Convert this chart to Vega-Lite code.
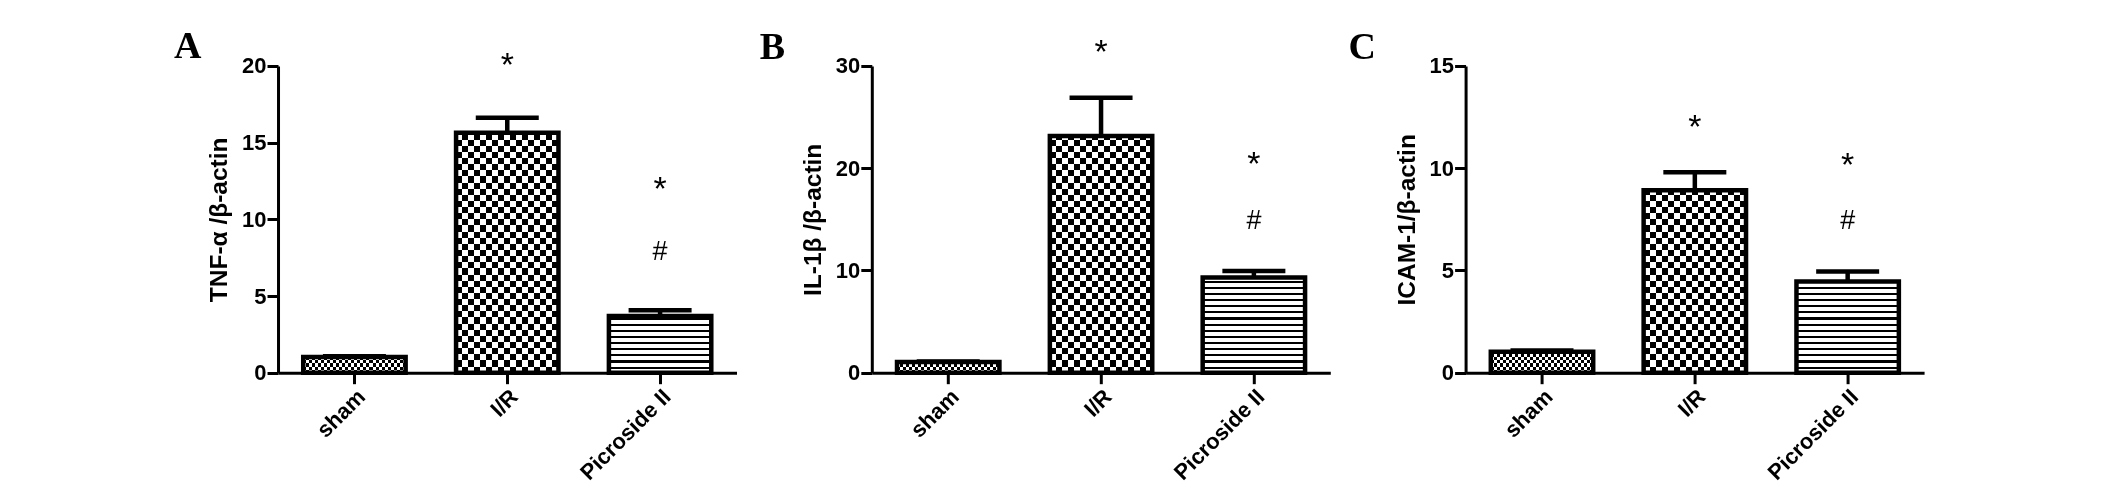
{
"$schema":"https://vega.github.io/schema/vega-lite/v6.json",
"background":"white",
"padding":{"left":174,"top":28,"right":5,"bottom":5},
"datasets":{
"bars":[
{"panel":"A","group":"sham","value":1.02,"hi":1.07},
{"panel":"A","group":"I/R","value":15.65,"hi":16.63},
{"panel":"A","group":"Picroside II","value":3.7,"hi":4.07},
{"panel":"B","group":"sham","value":1.05,"hi":1.1},
{"panel":"B","group":"I/R","value":23.16,"hi":26.9},
{"panel":"B","group":"Picroside II","value":9.3,"hi":9.95},
{"panel":"C","group":"sham","value":1.03,"hi":1.08},
{"panel":"C","group":"I/R","value":8.92,"hi":9.8},
{"panel":"C","group":"Picroside II","value":4.46,"hi":4.95}
],
"notes":[
{"panel":"A","group":"I/R","sym":"*","at":20.44},
{"panel":"A","group":"Picroside II","sym":"*","at":12.39},
{"panel":"A","group":"Picroside II","sym":"#","at":7.96},
{"panel":"B","group":"I/R","sym":"*","at":31.96},
{"panel":"B","group":"Picroside II","sym":"*","at":20.96},
{"panel":"B","group":"Picroside II","sym":"#","at":14.94},
{"panel":"C","group":"I/R","sym":"*","at":12.31},
{"panel":"C","group":"Picroside II","sym":"*","at":10.43},
{"panel":"C","group":"Picroside II","sym":"#","at":7.47}
]
},
"spacing":134.8,
"bounds":"flush",
"hconcat":[
{
"width":458.5,"height":306.7,
"title":{"text":"A","dx":-104,"dy":25},
"data":{"name":"bars"},
"transform":[{"filter":"datum.panel === 'A'"}],
"encoding":{"x":{"field":"group","type":"nominal","scale":{"domain":["sham","I/R","Picroside II"],"paddingInner":0.33,"paddingOuter":0.165},"axis":{"title":null,"labelAngle":-45}}},
"layer":[
{"transform":[{"filter":"datum.group === 'I/R'"}],"mark":{"type":"bar","fill":{"gradient":"linear","x1":0,"y1":0,"x2":0,"y2":1,"stops":[{"offset":0,"color":"#000"},{"offset":0.02,"color":"#000"},{"offset":0.02,"color":"#fff"},{"offset":0.04,"color":"#fff"},{"offset":0.04,"color":"#000"},{"offset":0.06,"color":"#000"},{"offset":0.06,"color":"#fff"},{"offset":0.08,"color":"#fff"},{"offset":0.08,"color":"#000"},{"offset":0.1,"color":"#000"},{"offset":0.1,"color":"#fff"},{"offset":0.12,"color":"#fff"},{"offset":0.12,"color":"#000"},{"offset":0.14,"color":"#000"},{"offset":0.14,"color":"#fff"},{"offset":0.16,"color":"#fff"},{"offset":0.16,"color":"#000"},{"offset":0.18,"color":"#000"},{"offset":0.18,"color":"#fff"},{"offset":0.2,"color":"#fff"},{"offset":0.2,"color":"#000"},{"offset":0.22,"color":"#000"},{"offset":0.22,"color":"#fff"},{"offset":0.24,"color":"#fff"},{"offset":0.24,"color":"#000"},{"offset":0.26,"color":"#000"},{"offset":0.26,"color":"#fff"},{"offset":0.28,"color":"#fff"},{"offset":0.28,"color":"#000"},{"offset":0.3,"color":"#000"},{"offset":0.3,"color":"#fff"},{"offset":0.32,"color":"#fff"},{"offset":0.32,"color":"#000"},{"offset":0.34,"color":"#000"},{"offset":0.34,"color":"#fff"},{"offset":0.36,"color":"#fff"},{"offset":0.36,"color":"#000"},{"offset":0.38,"color":"#000"},{"offset":0.38,"color":"#fff"},{"offset":0.4,"color":"#fff"},{"offset":0.4,"color":"#000"},{"offset":0.42,"color":"#000"},{"offset":0.42,"color":"#fff"},{"offset":0.44,"color":"#fff"},{"offset":0.44,"color":"#000"},{"offset":0.46,"color":"#000"},{"offset":0.46,"color":"#fff"},{"offset":0.48,"color":"#fff"},{"offset":0.48,"color":"#000"},{"offset":0.5,"color":"#000"},{"offset":0.5,"color":"#fff"},{"offset":0.52,"color":"#fff"},{"offset":0.52,"color":"#000"},{"offset":0.54,"color":"#000"},{"offset":0.54,"color":"#fff"},{"offset":0.56,"color":"#fff"},{"offset":0.56,"color":"#000"},{"offset":0.58,"color":"#000"},{"offset":0.58,"color":"#fff"},{"offset":0.6,"color":"#fff"},{"offset":0.6,"color":"#000"},{"offset":0.62,"color":"#000"},{"offset":0.62,"color":"#fff"},{"offset":0.64,"color":"#fff"},{"offset":0.64,"color":"#000"},{"offset":0.66,"color":"#000"},{"offset":0.66,"color":"#fff"},{"offset":0.68,"color":"#fff"},{"offset":0.68,"color":"#000"},{"offset":0.7,"color":"#000"},{"offset":0.7,"color":"#fff"},{"offset":0.72,"color":"#fff"},{"offset":0.72,"color":"#000"},{"offset":0.74,"color":"#000"},{"offset":0.74,"color":"#fff"},{"offset":0.76,"color":"#fff"},{"offset":0.76,"color":"#000"},{"offset":0.78,"color":"#000"},{"offset":0.78,"color":"#fff"},{"offset":0.8,"color":"#fff"},{"offset":0.8,"color":"#000"},{"offset":0.82,"color":"#000"},{"offset":0.82,"color":"#fff"},{"offset":0.84,"color":"#fff"},{"offset":0.84,"color":"#000"},{"offset":0.86,"color":"#000"},{"offset":0.86,"color":"#fff"},{"offset":0.88,"color":"#fff"},{"offset":0.88,"color":"#000"},{"offset":0.9,"color":"#000"},{"offset":0.9,"color":"#fff"},{"offset":0.92,"color":"#fff"},{"offset":0.92,"color":"#000"},{"offset":0.94,"color":"#000"},{"offset":0.94,"color":"#fff"},{"offset":0.96,"color":"#fff"},{"offset":0.96,"color":"#000"},{"offset":0.98,"color":"#000"},{"offset":0.98,"color":"#fff"},{"offset":1,"color":"#fff"}]}},"encoding":{"y":{"datum":20,"type":"quantitative","scale":{"domain":[0,20],"nice":false},"axis":{"title":"TNF-α /β-actin"}}}},
{"transform":[{"filter":"datum.group === 'I/R'"}],"mark":{"type":"bar","blend":"difference","fill":{"gradient":"linear","x1":0,"y1":0,"x2":1,"y2":0,"stops":[{"offset":0,"color":"#000"},{"offset":0.0588,"color":"#000"},{"offset":0.0588,"color":"#fff"},{"offset":0.1176,"color":"#fff"},{"offset":0.1176,"color":"#000"},{"offset":0.1765,"color":"#000"},{"offset":0.1765,"color":"#fff"},{"offset":0.2353,"color":"#fff"},{"offset":0.2353,"color":"#000"},{"offset":0.2941,"color":"#000"},{"offset":0.2941,"color":"#fff"},{"offset":0.3529,"color":"#fff"},{"offset":0.3529,"color":"#000"},{"offset":0.4118,"color":"#000"},{"offset":0.4118,"color":"#fff"},{"offset":0.4706,"color":"#fff"},{"offset":0.4706,"color":"#000"},{"offset":0.5294,"color":"#000"},{"offset":0.5294,"color":"#fff"},{"offset":0.5882,"color":"#fff"},{"offset":0.5882,"color":"#000"},{"offset":0.6471,"color":"#000"},{"offset":0.6471,"color":"#fff"},{"offset":0.7059,"color":"#fff"},{"offset":0.7059,"color":"#000"},{"offset":0.7647,"color":"#000"},{"offset":0.7647,"color":"#fff"},{"offset":0.8235,"color":"#fff"},{"offset":0.8235,"color":"#000"},{"offset":0.8824,"color":"#000"},{"offset":0.8824,"color":"#fff"},{"offset":0.9412,"color":"#fff"},{"offset":0.9412,"color":"#000"},{"offset":1,"color":"#000"}]}},"encoding":{"y":{"datum":20,"type":"quantitative","scale":{"domain":[0,20],"nice":false}}}},
{"transform":[{"filter":"datum.group === 'sham'"}],"mark":{"type":"bar","fill":{"gradient":"linear","x1":0,"y1":0,"x2":0,"y2":1,"stops":[{"offset":0,"color":"#fff"},{"offset":0.92,"color":"#fff"},{"offset":0.92,"color":"#000"},{"offset":0.93,"color":"#000"},{"offset":0.93,"color":"#fff"},{"offset":0.94,"color":"#fff"},{"offset":0.94,"color":"#000"},{"offset":0.95,"color":"#000"},{"offset":0.95,"color":"#fff"},{"offset":0.96,"color":"#fff"},{"offset":0.96,"color":"#000"},{"offset":0.97,"color":"#000"},{"offset":0.97,"color":"#fff"},{"offset":0.98,"color":"#fff"},{"offset":0.98,"color":"#000"},{"offset":0.99,"color":"#000"},{"offset":0.99,"color":"#fff"},{"offset":1,"color":"#fff"}]}},"encoding":{"y":{"datum":20,"type":"quantitative","scale":{"domain":[0,20],"nice":false}}}},
{"transform":[{"filter":"datum.group === 'sham'"}],"mark":{"type":"bar","blend":"difference","fill":{"gradient":"linear","x1":0,"y1":0,"x2":1,"y2":0,"stops":[{"offset":0,"color":"#000"},{"offset":0.0294,"color":"#000"},{"offset":0.0294,"color":"#fff"},{"offset":0.0588,"color":"#fff"},{"offset":0.0588,"color":"#000"},{"offset":0.0882,"color":"#000"},{"offset":0.0882,"color":"#fff"},{"offset":0.1176,"color":"#fff"},{"offset":0.1176,"color":"#000"},{"offset":0.1471,"color":"#000"},{"offset":0.1471,"color":"#fff"},{"offset":0.1765,"color":"#fff"},{"offset":0.1765,"color":"#000"},{"offset":0.2059,"color":"#000"},{"offset":0.2059,"color":"#fff"},{"offset":0.2353,"color":"#fff"},{"offset":0.2353,"color":"#000"},{"offset":0.2647,"color":"#000"},{"offset":0.2647,"color":"#fff"},{"offset":0.2941,"color":"#fff"},{"offset":0.2941,"color":"#000"},{"offset":0.3235,"color":"#000"},{"offset":0.3235,"color":"#fff"},{"offset":0.3529,"color":"#fff"},{"offset":0.3529,"color":"#000"},{"offset":0.3824,"color":"#000"},{"offset":0.3824,"color":"#fff"},{"offset":0.4118,"color":"#fff"},{"offset":0.4118,"color":"#000"},{"offset":0.4412,"color":"#000"},{"offset":0.4412,"color":"#fff"},{"offset":0.4706,"color":"#fff"},{"offset":0.4706,"color":"#000"},{"offset":0.5,"color":"#000"},{"offset":0.5,"color":"#fff"},{"offset":0.5294,"color":"#fff"},{"offset":0.5294,"color":"#000"},{"offset":0.5588,"color":"#000"},{"offset":0.5588,"color":"#fff"},{"offset":0.5882,"color":"#fff"},{"offset":0.5882,"color":"#000"},{"offset":0.6176,"color":"#000"},{"offset":0.6176,"color":"#fff"},{"offset":0.6471,"color":"#fff"},{"offset":0.6471,"color":"#000"},{"offset":0.6765,"color":"#000"},{"offset":0.6765,"color":"#fff"},{"offset":0.7059,"color":"#fff"},{"offset":0.7059,"color":"#000"},{"offset":0.7353,"color":"#000"},{"offset":0.7353,"color":"#fff"},{"offset":0.7647,"color":"#fff"},{"offset":0.7647,"color":"#000"},{"offset":0.7941,"color":"#000"},{"offset":0.7941,"color":"#fff"},{"offset":0.8235,"color":"#fff"},{"offset":0.8235,"color":"#000"},{"offset":0.8529,"color":"#000"},{"offset":0.8529,"color":"#fff"},{"offset":0.8824,"color":"#fff"},{"offset":0.8824,"color":"#000"},{"offset":0.9118,"color":"#000"},{"offset":0.9118,"color":"#fff"},{"offset":0.9412,"color":"#fff"},{"offset":0.9412,"color":"#000"},{"offset":0.9706,"color":"#000"},{"offset":0.9706,"color":"#fff"},{"offset":1,"color":"#fff"}]}},"encoding":{"y":{"datum":20,"type":"quantitative","scale":{"domain":[0,20],"nice":false}}}},
{"transform":[{"filter":"datum.group === 'Picroside II'"}],"mark":{"type":"bar","fill":{"gradient":"linear","x1":0,"y1":0,"x2":0,"y2":1,"stops":[{"offset":0,"color":"#fff"},{"offset":0.68,"color":"#fff"},{"offset":0.68,"color":"#000"},{"offset":0.687,"color":"#000"},{"offset":0.687,"color":"#fff"},{"offset":0.7,"color":"#fff"},{"offset":0.7,"color":"#000"},{"offset":0.707,"color":"#000"},{"offset":0.707,"color":"#fff"},{"offset":0.72,"color":"#fff"},{"offset":0.72,"color":"#000"},{"offset":0.727,"color":"#000"},{"offset":0.727,"color":"#fff"},{"offset":0.74,"color":"#fff"},{"offset":0.74,"color":"#000"},{"offset":0.747,"color":"#000"},{"offset":0.747,"color":"#fff"},{"offset":0.76,"color":"#fff"},{"offset":0.76,"color":"#000"},{"offset":0.767,"color":"#000"},{"offset":0.767,"color":"#fff"},{"offset":0.78,"color":"#fff"},{"offset":0.78,"color":"#000"},{"offset":0.787,"color":"#000"},{"offset":0.787,"color":"#fff"},{"offset":0.8,"color":"#fff"},{"offset":0.8,"color":"#000"},{"offset":0.807,"color":"#000"},{"offset":0.807,"color":"#fff"},{"offset":0.82,"color":"#fff"},{"offset":0.82,"color":"#000"},{"offset":0.827,"color":"#000"},{"offset":0.827,"color":"#fff"},{"offset":0.84,"color":"#fff"},{"offset":0.84,"color":"#000"},{"offset":0.847,"color":"#000"},{"offset":0.847,"color":"#fff"},{"offset":0.86,"color":"#fff"},{"offset":0.86,"color":"#000"},{"offset":0.867,"color":"#000"},{"offset":0.867,"color":"#fff"},{"offset":0.88,"color":"#fff"},{"offset":0.88,"color":"#000"},{"offset":0.887,"color":"#000"},{"offset":0.887,"color":"#fff"},{"offset":0.9,"color":"#fff"},{"offset":0.9,"color":"#000"},{"offset":0.907,"color":"#000"},{"offset":0.907,"color":"#fff"},{"offset":0.92,"color":"#fff"},{"offset":0.92,"color":"#000"},{"offset":0.927,"color":"#000"},{"offset":0.927,"color":"#fff"},{"offset":0.94,"color":"#fff"},{"offset":0.94,"color":"#000"},{"offset":0.947,"color":"#000"},{"offset":0.947,"color":"#fff"},{"offset":0.96,"color":"#fff"},{"offset":0.96,"color":"#000"},{"offset":0.967,"color":"#000"},{"offset":0.967,"color":"#fff"},{"offset":0.98,"color":"#fff"},{"offset":0.98,"color":"#000"},{"offset":0.987,"color":"#000"},{"offset":0.987,"color":"#fff"},{"offset":1,"color":"#fff"}]}},"encoding":{"y":{"datum":20,"type":"quantitative","scale":{"domain":[0,20],"nice":false}}}},
{"mark":{"type":"bar","fill":"white","stroke":"white","strokeWidth":2},"encoding":{"y":{"field":"value","type":"quantitative","scale":{"domain":[0,20],"nice":false}},"y2":{"datum":20}}},
{"mark":{"type":"bar","fillOpacity":0,"stroke":"black","strokeWidth":4.5},"encoding":{"y":{"field":"value","type":"quantitative","scale":{"domain":[0,20],"nice":false}}}},
{"mark":{"type":"rule","color":"black","strokeWidth":4.5},"encoding":{"y":{"field":"value","type":"quantitative","scale":{"domain":[0,20],"nice":false}},"y2":{"field":"hi"}}},
{"mark":{"type":"tick","color":"black","opacity":1,"size":63,"thickness":4.5},"encoding":{"y":{"field":"hi","type":"quantitative","scale":{"domain":[0,20],"nice":false}}}},
{"data":{"name":"notes"},"transform":[{"filter":"datum.panel === 'A' && datum.sym === '*'"}],"mark":{"type":"text","fontSize":34,"baseline":"alphabetic","dy":17,"color":"black"},"encoding":{"y":{"field":"at","type":"quantitative","scale":{"domain":[0,20],"nice":false}},"text":{"field":"sym"}}},
{"data":{"name":"notes"},"transform":[{"filter":"datum.panel === 'A' && datum.sym === '#'"}],"mark":{"type":"text","fontSize":27,"baseline":"alphabetic","dy":9,"color":"black"},"encoding":{"y":{"field":"at","type":"quantitative","scale":{"domain":[0,20],"nice":false}},"text":{"field":"sym"}}}
]
},
{
"width":458.5,"height":306.7,
"title":{"text":"B","dx":-112,"dy":39},
"data":{"name":"bars"},
"transform":[{"filter":"datum.panel === 'B'"}],
"encoding":{"x":{"field":"group","type":"nominal","scale":{"domain":["sham","I/R","Picroside II"],"paddingInner":0.33,"paddingOuter":0.165},"axis":{"title":null,"labelAngle":-45}}},
"layer":[
{"transform":[{"filter":"datum.group === 'I/R'"}],"mark":{"type":"bar","fill":{"gradient":"linear","x1":0,"y1":0,"x2":0,"y2":1,"stops":[{"offset":0,"color":"#000"},{"offset":0.02,"color":"#000"},{"offset":0.02,"color":"#fff"},{"offset":0.04,"color":"#fff"},{"offset":0.04,"color":"#000"},{"offset":0.06,"color":"#000"},{"offset":0.06,"color":"#fff"},{"offset":0.08,"color":"#fff"},{"offset":0.08,"color":"#000"},{"offset":0.1,"color":"#000"},{"offset":0.1,"color":"#fff"},{"offset":0.12,"color":"#fff"},{"offset":0.12,"color":"#000"},{"offset":0.14,"color":"#000"},{"offset":0.14,"color":"#fff"},{"offset":0.16,"color":"#fff"},{"offset":0.16,"color":"#000"},{"offset":0.18,"color":"#000"},{"offset":0.18,"color":"#fff"},{"offset":0.2,"color":"#fff"},{"offset":0.2,"color":"#000"},{"offset":0.22,"color":"#000"},{"offset":0.22,"color":"#fff"},{"offset":0.24,"color":"#fff"},{"offset":0.24,"color":"#000"},{"offset":0.26,"color":"#000"},{"offset":0.26,"color":"#fff"},{"offset":0.28,"color":"#fff"},{"offset":0.28,"color":"#000"},{"offset":0.3,"color":"#000"},{"offset":0.3,"color":"#fff"},{"offset":0.32,"color":"#fff"},{"offset":0.32,"color":"#000"},{"offset":0.34,"color":"#000"},{"offset":0.34,"color":"#fff"},{"offset":0.36,"color":"#fff"},{"offset":0.36,"color":"#000"},{"offset":0.38,"color":"#000"},{"offset":0.38,"color":"#fff"},{"offset":0.4,"color":"#fff"},{"offset":0.4,"color":"#000"},{"offset":0.42,"color":"#000"},{"offset":0.42,"color":"#fff"},{"offset":0.44,"color":"#fff"},{"offset":0.44,"color":"#000"},{"offset":0.46,"color":"#000"},{"offset":0.46,"color":"#fff"},{"offset":0.48,"color":"#fff"},{"offset":0.48,"color":"#000"},{"offset":0.5,"color":"#000"},{"offset":0.5,"color":"#fff"},{"offset":0.52,"color":"#fff"},{"offset":0.52,"color":"#000"},{"offset":0.54,"color":"#000"},{"offset":0.54,"color":"#fff"},{"offset":0.56,"color":"#fff"},{"offset":0.56,"color":"#000"},{"offset":0.58,"color":"#000"},{"offset":0.58,"color":"#fff"},{"offset":0.6,"color":"#fff"},{"offset":0.6,"color":"#000"},{"offset":0.62,"color":"#000"},{"offset":0.62,"color":"#fff"},{"offset":0.64,"color":"#fff"},{"offset":0.64,"color":"#000"},{"offset":0.66,"color":"#000"},{"offset":0.66,"color":"#fff"},{"offset":0.68,"color":"#fff"},{"offset":0.68,"color":"#000"},{"offset":0.7,"color":"#000"},{"offset":0.7,"color":"#fff"},{"offset":0.72,"color":"#fff"},{"offset":0.72,"color":"#000"},{"offset":0.74,"color":"#000"},{"offset":0.74,"color":"#fff"},{"offset":0.76,"color":"#fff"},{"offset":0.76,"color":"#000"},{"offset":0.78,"color":"#000"},{"offset":0.78,"color":"#fff"},{"offset":0.8,"color":"#fff"},{"offset":0.8,"color":"#000"},{"offset":0.82,"color":"#000"},{"offset":0.82,"color":"#fff"},{"offset":0.84,"color":"#fff"},{"offset":0.84,"color":"#000"},{"offset":0.86,"color":"#000"},{"offset":0.86,"color":"#fff"},{"offset":0.88,"color":"#fff"},{"offset":0.88,"color":"#000"},{"offset":0.9,"color":"#000"},{"offset":0.9,"color":"#fff"},{"offset":0.92,"color":"#fff"},{"offset":0.92,"color":"#000"},{"offset":0.94,"color":"#000"},{"offset":0.94,"color":"#fff"},{"offset":0.96,"color":"#fff"},{"offset":0.96,"color":"#000"},{"offset":0.98,"color":"#000"},{"offset":0.98,"color":"#fff"},{"offset":1,"color":"#fff"}]}},"encoding":{"y":{"datum":30,"type":"quantitative","scale":{"domain":[0,30],"nice":false},"axis":{"title":"IL-1β /β-actin"}}}},
{"transform":[{"filter":"datum.group === 'I/R'"}],"mark":{"type":"bar","blend":"difference","fill":{"gradient":"linear","x1":0,"y1":0,"x2":1,"y2":0,"stops":[{"offset":0,"color":"#000"},{"offset":0.0588,"color":"#000"},{"offset":0.0588,"color":"#fff"},{"offset":0.1176,"color":"#fff"},{"offset":0.1176,"color":"#000"},{"offset":0.1765,"color":"#000"},{"offset":0.1765,"color":"#fff"},{"offset":0.2353,"color":"#fff"},{"offset":0.2353,"color":"#000"},{"offset":0.2941,"color":"#000"},{"offset":0.2941,"color":"#fff"},{"offset":0.3529,"color":"#fff"},{"offset":0.3529,"color":"#000"},{"offset":0.4118,"color":"#000"},{"offset":0.4118,"color":"#fff"},{"offset":0.4706,"color":"#fff"},{"offset":0.4706,"color":"#000"},{"offset":0.5294,"color":"#000"},{"offset":0.5294,"color":"#fff"},{"offset":0.5882,"color":"#fff"},{"offset":0.5882,"color":"#000"},{"offset":0.6471,"color":"#000"},{"offset":0.6471,"color":"#fff"},{"offset":0.7059,"color":"#fff"},{"offset":0.7059,"color":"#000"},{"offset":0.7647,"color":"#000"},{"offset":0.7647,"color":"#fff"},{"offset":0.8235,"color":"#fff"},{"offset":0.8235,"color":"#000"},{"offset":0.8824,"color":"#000"},{"offset":0.8824,"color":"#fff"},{"offset":0.9412,"color":"#fff"},{"offset":0.9412,"color":"#000"},{"offset":1,"color":"#000"}]}},"encoding":{"y":{"datum":30,"type":"quantitative","scale":{"domain":[0,30],"nice":false}}}},
{"transform":[{"filter":"datum.group === 'sham'"}],"mark":{"type":"bar","fill":{"gradient":"linear","x1":0,"y1":0,"x2":0,"y2":1,"stops":[{"offset":0,"color":"#fff"},{"offset":0.92,"color":"#fff"},{"offset":0.92,"color":"#000"},{"offset":0.93,"color":"#000"},{"offset":0.93,"color":"#fff"},{"offset":0.94,"color":"#fff"},{"offset":0.94,"color":"#000"},{"offset":0.95,"color":"#000"},{"offset":0.95,"color":"#fff"},{"offset":0.96,"color":"#fff"},{"offset":0.96,"color":"#000"},{"offset":0.97,"color":"#000"},{"offset":0.97,"color":"#fff"},{"offset":0.98,"color":"#fff"},{"offset":0.98,"color":"#000"},{"offset":0.99,"color":"#000"},{"offset":0.99,"color":"#fff"},{"offset":1,"color":"#fff"}]}},"encoding":{"y":{"datum":30,"type":"quantitative","scale":{"domain":[0,30],"nice":false}}}},
{"transform":[{"filter":"datum.group === 'sham'"}],"mark":{"type":"bar","blend":"difference","fill":{"gradient":"linear","x1":0,"y1":0,"x2":1,"y2":0,"stops":[{"offset":0,"color":"#000"},{"offset":0.0294,"color":"#000"},{"offset":0.0294,"color":"#fff"},{"offset":0.0588,"color":"#fff"},{"offset":0.0588,"color":"#000"},{"offset":0.0882,"color":"#000"},{"offset":0.0882,"color":"#fff"},{"offset":0.1176,"color":"#fff"},{"offset":0.1176,"color":"#000"},{"offset":0.1471,"color":"#000"},{"offset":0.1471,"color":"#fff"},{"offset":0.1765,"color":"#fff"},{"offset":0.1765,"color":"#000"},{"offset":0.2059,"color":"#000"},{"offset":0.2059,"color":"#fff"},{"offset":0.2353,"color":"#fff"},{"offset":0.2353,"color":"#000"},{"offset":0.2647,"color":"#000"},{"offset":0.2647,"color":"#fff"},{"offset":0.2941,"color":"#fff"},{"offset":0.2941,"color":"#000"},{"offset":0.3235,"color":"#000"},{"offset":0.3235,"color":"#fff"},{"offset":0.3529,"color":"#fff"},{"offset":0.3529,"color":"#000"},{"offset":0.3824,"color":"#000"},{"offset":0.3824,"color":"#fff"},{"offset":0.4118,"color":"#fff"},{"offset":0.4118,"color":"#000"},{"offset":0.4412,"color":"#000"},{"offset":0.4412,"color":"#fff"},{"offset":0.4706,"color":"#fff"},{"offset":0.4706,"color":"#000"},{"offset":0.5,"color":"#000"},{"offset":0.5,"color":"#fff"},{"offset":0.5294,"color":"#fff"},{"offset":0.5294,"color":"#000"},{"offset":0.5588,"color":"#000"},{"offset":0.5588,"color":"#fff"},{"offset":0.5882,"color":"#fff"},{"offset":0.5882,"color":"#000"},{"offset":0.6176,"color":"#000"},{"offset":0.6176,"color":"#fff"},{"offset":0.6471,"color":"#fff"},{"offset":0.6471,"color":"#000"},{"offset":0.6765,"color":"#000"},{"offset":0.6765,"color":"#fff"},{"offset":0.7059,"color":"#fff"},{"offset":0.7059,"color":"#000"},{"offset":0.7353,"color":"#000"},{"offset":0.7353,"color":"#fff"},{"offset":0.7647,"color":"#fff"},{"offset":0.7647,"color":"#000"},{"offset":0.7941,"color":"#000"},{"offset":0.7941,"color":"#fff"},{"offset":0.8235,"color":"#fff"},{"offset":0.8235,"color":"#000"},{"offset":0.8529,"color":"#000"},{"offset":0.8529,"color":"#fff"},{"offset":0.8824,"color":"#fff"},{"offset":0.8824,"color":"#000"},{"offset":0.9118,"color":"#000"},{"offset":0.9118,"color":"#fff"},{"offset":0.9412,"color":"#fff"},{"offset":0.9412,"color":"#000"},{"offset":0.9706,"color":"#000"},{"offset":0.9706,"color":"#fff"},{"offset":1,"color":"#fff"}]}},"encoding":{"y":{"datum":30,"type":"quantitative","scale":{"domain":[0,30],"nice":false}}}},
{"transform":[{"filter":"datum.group === 'Picroside II'"}],"mark":{"type":"bar","fill":{"gradient":"linear","x1":0,"y1":0,"x2":0,"y2":1,"stops":[{"offset":0,"color":"#fff"},{"offset":0.68,"color":"#fff"},{"offset":0.68,"color":"#000"},{"offset":0.687,"color":"#000"},{"offset":0.687,"color":"#fff"},{"offset":0.7,"color":"#fff"},{"offset":0.7,"color":"#000"},{"offset":0.707,"color":"#000"},{"offset":0.707,"color":"#fff"},{"offset":0.72,"color":"#fff"},{"offset":0.72,"color":"#000"},{"offset":0.727,"color":"#000"},{"offset":0.727,"color":"#fff"},{"offset":0.74,"color":"#fff"},{"offset":0.74,"color":"#000"},{"offset":0.747,"color":"#000"},{"offset":0.747,"color":"#fff"},{"offset":0.76,"color":"#fff"},{"offset":0.76,"color":"#000"},{"offset":0.767,"color":"#000"},{"offset":0.767,"color":"#fff"},{"offset":0.78,"color":"#fff"},{"offset":0.78,"color":"#000"},{"offset":0.787,"color":"#000"},{"offset":0.787,"color":"#fff"},{"offset":0.8,"color":"#fff"},{"offset":0.8,"color":"#000"},{"offset":0.807,"color":"#000"},{"offset":0.807,"color":"#fff"},{"offset":0.82,"color":"#fff"},{"offset":0.82,"color":"#000"},{"offset":0.827,"color":"#000"},{"offset":0.827,"color":"#fff"},{"offset":0.84,"color":"#fff"},{"offset":0.84,"color":"#000"},{"offset":0.847,"color":"#000"},{"offset":0.847,"color":"#fff"},{"offset":0.86,"color":"#fff"},{"offset":0.86,"color":"#000"},{"offset":0.867,"color":"#000"},{"offset":0.867,"color":"#fff"},{"offset":0.88,"color":"#fff"},{"offset":0.88,"color":"#000"},{"offset":0.887,"color":"#000"},{"offset":0.887,"color":"#fff"},{"offset":0.9,"color":"#fff"},{"offset":0.9,"color":"#000"},{"offset":0.907,"color":"#000"},{"offset":0.907,"color":"#fff"},{"offset":0.92,"color":"#fff"},{"offset":0.92,"color":"#000"},{"offset":0.927,"color":"#000"},{"offset":0.927,"color":"#fff"},{"offset":0.94,"color":"#fff"},{"offset":0.94,"color":"#000"},{"offset":0.947,"color":"#000"},{"offset":0.947,"color":"#fff"},{"offset":0.96,"color":"#fff"},{"offset":0.96,"color":"#000"},{"offset":0.967,"color":"#000"},{"offset":0.967,"color":"#fff"},{"offset":0.98,"color":"#fff"},{"offset":0.98,"color":"#000"},{"offset":0.987,"color":"#000"},{"offset":0.987,"color":"#fff"},{"offset":1,"color":"#fff"}]}},"encoding":{"y":{"datum":30,"type":"quantitative","scale":{"domain":[0,30],"nice":false}}}},
{"mark":{"type":"bar","fill":"white","stroke":"white","strokeWidth":2},"encoding":{"y":{"field":"value","type":"quantitative","scale":{"domain":[0,30],"nice":false}},"y2":{"datum":30}}},
{"mark":{"type":"bar","fillOpacity":0,"stroke":"black","strokeWidth":4.5},"encoding":{"y":{"field":"value","type":"quantitative","scale":{"domain":[0,30],"nice":false}}}},
{"mark":{"type":"rule","color":"black","strokeWidth":4.5},"encoding":{"y":{"field":"value","type":"quantitative","scale":{"domain":[0,30],"nice":false}},"y2":{"field":"hi"}}},
{"mark":{"type":"tick","color":"black","opacity":1,"size":63,"thickness":4.5},"encoding":{"y":{"field":"hi","type":"quantitative","scale":{"domain":[0,30],"nice":false}}}},
{"data":{"name":"notes"},"transform":[{"filter":"datum.panel === 'B' && datum.sym === '*'"}],"mark":{"type":"text","fontSize":34,"baseline":"alphabetic","dy":17,"color":"black"},"encoding":{"y":{"field":"at","type":"quantitative","scale":{"domain":[0,30],"nice":false}},"text":{"field":"sym"}}},
{"data":{"name":"notes"},"transform":[{"filter":"datum.panel === 'B' && datum.sym === '#'"}],"mark":{"type":"text","fontSize":27,"baseline":"alphabetic","dy":9,"color":"black"},"encoding":{"y":{"field":"at","type":"quantitative","scale":{"domain":[0,30],"nice":false}},"text":{"field":"sym"}}}
]
},
{
"width":458.5,"height":306.7,
"title":{"text":"C","dx":-117,"dy":20},
"data":{"name":"bars"},
"transform":[{"filter":"datum.panel === 'C'"}],
"encoding":{"x":{"field":"group","type":"nominal","scale":{"domain":["sham","I/R","Picroside II"],"paddingInner":0.33,"paddingOuter":0.165},"axis":{"title":null,"labelAngle":-45}}},
"layer":[
{"transform":[{"filter":"datum.group === 'I/R'"}],"mark":{"type":"bar","fill":{"gradient":"linear","x1":0,"y1":0,"x2":0,"y2":1,"stops":[{"offset":0,"color":"#000"},{"offset":0.02,"color":"#000"},{"offset":0.02,"color":"#fff"},{"offset":0.04,"color":"#fff"},{"offset":0.04,"color":"#000"},{"offset":0.06,"color":"#000"},{"offset":0.06,"color":"#fff"},{"offset":0.08,"color":"#fff"},{"offset":0.08,"color":"#000"},{"offset":0.1,"color":"#000"},{"offset":0.1,"color":"#fff"},{"offset":0.12,"color":"#fff"},{"offset":0.12,"color":"#000"},{"offset":0.14,"color":"#000"},{"offset":0.14,"color":"#fff"},{"offset":0.16,"color":"#fff"},{"offset":0.16,"color":"#000"},{"offset":0.18,"color":"#000"},{"offset":0.18,"color":"#fff"},{"offset":0.2,"color":"#fff"},{"offset":0.2,"color":"#000"},{"offset":0.22,"color":"#000"},{"offset":0.22,"color":"#fff"},{"offset":0.24,"color":"#fff"},{"offset":0.24,"color":"#000"},{"offset":0.26,"color":"#000"},{"offset":0.26,"color":"#fff"},{"offset":0.28,"color":"#fff"},{"offset":0.28,"color":"#000"},{"offset":0.3,"color":"#000"},{"offset":0.3,"color":"#fff"},{"offset":0.32,"color":"#fff"},{"offset":0.32,"color":"#000"},{"offset":0.34,"color":"#000"},{"offset":0.34,"color":"#fff"},{"offset":0.36,"color":"#fff"},{"offset":0.36,"color":"#000"},{"offset":0.38,"color":"#000"},{"offset":0.38,"color":"#fff"},{"offset":0.4,"color":"#fff"},{"offset":0.4,"color":"#000"},{"offset":0.42,"color":"#000"},{"offset":0.42,"color":"#fff"},{"offset":0.44,"color":"#fff"},{"offset":0.44,"color":"#000"},{"offset":0.46,"color":"#000"},{"offset":0.46,"color":"#fff"},{"offset":0.48,"color":"#fff"},{"offset":0.48,"color":"#000"},{"offset":0.5,"color":"#000"},{"offset":0.5,"color":"#fff"},{"offset":0.52,"color":"#fff"},{"offset":0.52,"color":"#000"},{"offset":0.54,"color":"#000"},{"offset":0.54,"color":"#fff"},{"offset":0.56,"color":"#fff"},{"offset":0.56,"color":"#000"},{"offset":0.58,"color":"#000"},{"offset":0.58,"color":"#fff"},{"offset":0.6,"color":"#fff"},{"offset":0.6,"color":"#000"},{"offset":0.62,"color":"#000"},{"offset":0.62,"color":"#fff"},{"offset":0.64,"color":"#fff"},{"offset":0.64,"color":"#000"},{"offset":0.66,"color":"#000"},{"offset":0.66,"color":"#fff"},{"offset":0.68,"color":"#fff"},{"offset":0.68,"color":"#000"},{"offset":0.7,"color":"#000"},{"offset":0.7,"color":"#fff"},{"offset":0.72,"color":"#fff"},{"offset":0.72,"color":"#000"},{"offset":0.74,"color":"#000"},{"offset":0.74,"color":"#fff"},{"offset":0.76,"color":"#fff"},{"offset":0.76,"color":"#000"},{"offset":0.78,"color":"#000"},{"offset":0.78,"color":"#fff"},{"offset":0.8,"color":"#fff"},{"offset":0.8,"color":"#000"},{"offset":0.82,"color":"#000"},{"offset":0.82,"color":"#fff"},{"offset":0.84,"color":"#fff"},{"offset":0.84,"color":"#000"},{"offset":0.86,"color":"#000"},{"offset":0.86,"color":"#fff"},{"offset":0.88,"color":"#fff"},{"offset":0.88,"color":"#000"},{"offset":0.9,"color":"#000"},{"offset":0.9,"color":"#fff"},{"offset":0.92,"color":"#fff"},{"offset":0.92,"color":"#000"},{"offset":0.94,"color":"#000"},{"offset":0.94,"color":"#fff"},{"offset":0.96,"color":"#fff"},{"offset":0.96,"color":"#000"},{"offset":0.98,"color":"#000"},{"offset":0.98,"color":"#fff"},{"offset":1,"color":"#fff"}]}},"encoding":{"y":{"datum":15,"type":"quantitative","scale":{"domain":[0,15],"nice":false},"axis":{"title":"ICAM-1/β-actin"}}}},
{"transform":[{"filter":"datum.group === 'I/R'"}],"mark":{"type":"bar","blend":"difference","fill":{"gradient":"linear","x1":0,"y1":0,"x2":1,"y2":0,"stops":[{"offset":0,"color":"#000"},{"offset":0.0588,"color":"#000"},{"offset":0.0588,"color":"#fff"},{"offset":0.1176,"color":"#fff"},{"offset":0.1176,"color":"#000"},{"offset":0.1765,"color":"#000"},{"offset":0.1765,"color":"#fff"},{"offset":0.2353,"color":"#fff"},{"offset":0.2353,"color":"#000"},{"offset":0.2941,"color":"#000"},{"offset":0.2941,"color":"#fff"},{"offset":0.3529,"color":"#fff"},{"offset":0.3529,"color":"#000"},{"offset":0.4118,"color":"#000"},{"offset":0.4118,"color":"#fff"},{"offset":0.4706,"color":"#fff"},{"offset":0.4706,"color":"#000"},{"offset":0.5294,"color":"#000"},{"offset":0.5294,"color":"#fff"},{"offset":0.5882,"color":"#fff"},{"offset":0.5882,"color":"#000"},{"offset":0.6471,"color":"#000"},{"offset":0.6471,"color":"#fff"},{"offset":0.7059,"color":"#fff"},{"offset":0.7059,"color":"#000"},{"offset":0.7647,"color":"#000"},{"offset":0.7647,"color":"#fff"},{"offset":0.8235,"color":"#fff"},{"offset":0.8235,"color":"#000"},{"offset":0.8824,"color":"#000"},{"offset":0.8824,"color":"#fff"},{"offset":0.9412,"color":"#fff"},{"offset":0.9412,"color":"#000"},{"offset":1,"color":"#000"}]}},"encoding":{"y":{"datum":15,"type":"quantitative","scale":{"domain":[0,15],"nice":false}}}},
{"transform":[{"filter":"datum.group === 'sham'"}],"mark":{"type":"bar","fill":{"gradient":"linear","x1":0,"y1":0,"x2":0,"y2":1,"stops":[{"offset":0,"color":"#fff"},{"offset":0.92,"color":"#fff"},{"offset":0.92,"color":"#000"},{"offset":0.93,"color":"#000"},{"offset":0.93,"color":"#fff"},{"offset":0.94,"color":"#fff"},{"offset":0.94,"color":"#000"},{"offset":0.95,"color":"#000"},{"offset":0.95,"color":"#fff"},{"offset":0.96,"color":"#fff"},{"offset":0.96,"color":"#000"},{"offset":0.97,"color":"#000"},{"offset":0.97,"color":"#fff"},{"offset":0.98,"color":"#fff"},{"offset":0.98,"color":"#000"},{"offset":0.99,"color":"#000"},{"offset":0.99,"color":"#fff"},{"offset":1,"color":"#fff"}]}},"encoding":{"y":{"datum":15,"type":"quantitative","scale":{"domain":[0,15],"nice":false}}}},
{"transform":[{"filter":"datum.group === 'sham'"}],"mark":{"type":"bar","blend":"difference","fill":{"gradient":"linear","x1":0,"y1":0,"x2":1,"y2":0,"stops":[{"offset":0,"color":"#000"},{"offset":0.0294,"color":"#000"},{"offset":0.0294,"color":"#fff"},{"offset":0.0588,"color":"#fff"},{"offset":0.0588,"color":"#000"},{"offset":0.0882,"color":"#000"},{"offset":0.0882,"color":"#fff"},{"offset":0.1176,"color":"#fff"},{"offset":0.1176,"color":"#000"},{"offset":0.1471,"color":"#000"},{"offset":0.1471,"color":"#fff"},{"offset":0.1765,"color":"#fff"},{"offset":0.1765,"color":"#000"},{"offset":0.2059,"color":"#000"},{"offset":0.2059,"color":"#fff"},{"offset":0.2353,"color":"#fff"},{"offset":0.2353,"color":"#000"},{"offset":0.2647,"color":"#000"},{"offset":0.2647,"color":"#fff"},{"offset":0.2941,"color":"#fff"},{"offset":0.2941,"color":"#000"},{"offset":0.3235,"color":"#000"},{"offset":0.3235,"color":"#fff"},{"offset":0.3529,"color":"#fff"},{"offset":0.3529,"color":"#000"},{"offset":0.3824,"color":"#000"},{"offset":0.3824,"color":"#fff"},{"offset":0.4118,"color":"#fff"},{"offset":0.4118,"color":"#000"},{"offset":0.4412,"color":"#000"},{"offset":0.4412,"color":"#fff"},{"offset":0.4706,"color":"#fff"},{"offset":0.4706,"color":"#000"},{"offset":0.5,"color":"#000"},{"offset":0.5,"color":"#fff"},{"offset":0.5294,"color":"#fff"},{"offset":0.5294,"color":"#000"},{"offset":0.5588,"color":"#000"},{"offset":0.5588,"color":"#fff"},{"offset":0.5882,"color":"#fff"},{"offset":0.5882,"color":"#000"},{"offset":0.6176,"color":"#000"},{"offset":0.6176,"color":"#fff"},{"offset":0.6471,"color":"#fff"},{"offset":0.6471,"color":"#000"},{"offset":0.6765,"color":"#000"},{"offset":0.6765,"color":"#fff"},{"offset":0.7059,"color":"#fff"},{"offset":0.7059,"color":"#000"},{"offset":0.7353,"color":"#000"},{"offset":0.7353,"color":"#fff"},{"offset":0.7647,"color":"#fff"},{"offset":0.7647,"color":"#000"},{"offset":0.7941,"color":"#000"},{"offset":0.7941,"color":"#fff"},{"offset":0.8235,"color":"#fff"},{"offset":0.8235,"color":"#000"},{"offset":0.8529,"color":"#000"},{"offset":0.8529,"color":"#fff"},{"offset":0.8824,"color":"#fff"},{"offset":0.8824,"color":"#000"},{"offset":0.9118,"color":"#000"},{"offset":0.9118,"color":"#fff"},{"offset":0.9412,"color":"#fff"},{"offset":0.9412,"color":"#000"},{"offset":0.9706,"color":"#000"},{"offset":0.9706,"color":"#fff"},{"offset":1,"color":"#fff"}]}},"encoding":{"y":{"datum":15,"type":"quantitative","scale":{"domain":[0,15],"nice":false}}}},
{"transform":[{"filter":"datum.group === 'Picroside II'"}],"mark":{"type":"bar","fill":{"gradient":"linear","x1":0,"y1":0,"x2":0,"y2":1,"stops":[{"offset":0,"color":"#fff"},{"offset":0.68,"color":"#fff"},{"offset":0.68,"color":"#000"},{"offset":0.687,"color":"#000"},{"offset":0.687,"color":"#fff"},{"offset":0.7,"color":"#fff"},{"offset":0.7,"color":"#000"},{"offset":0.707,"color":"#000"},{"offset":0.707,"color":"#fff"},{"offset":0.72,"color":"#fff"},{"offset":0.72,"color":"#000"},{"offset":0.727,"color":"#000"},{"offset":0.727,"color":"#fff"},{"offset":0.74,"color":"#fff"},{"offset":0.74,"color":"#000"},{"offset":0.747,"color":"#000"},{"offset":0.747,"color":"#fff"},{"offset":0.76,"color":"#fff"},{"offset":0.76,"color":"#000"},{"offset":0.767,"color":"#000"},{"offset":0.767,"color":"#fff"},{"offset":0.78,"color":"#fff"},{"offset":0.78,"color":"#000"},{"offset":0.787,"color":"#000"},{"offset":0.787,"color":"#fff"},{"offset":0.8,"color":"#fff"},{"offset":0.8,"color":"#000"},{"offset":0.807,"color":"#000"},{"offset":0.807,"color":"#fff"},{"offset":0.82,"color":"#fff"},{"offset":0.82,"color":"#000"},{"offset":0.827,"color":"#000"},{"offset":0.827,"color":"#fff"},{"offset":0.84,"color":"#fff"},{"offset":0.84,"color":"#000"},{"offset":0.847,"color":"#000"},{"offset":0.847,"color":"#fff"},{"offset":0.86,"color":"#fff"},{"offset":0.86,"color":"#000"},{"offset":0.867,"color":"#000"},{"offset":0.867,"color":"#fff"},{"offset":0.88,"color":"#fff"},{"offset":0.88,"color":"#000"},{"offset":0.887,"color":"#000"},{"offset":0.887,"color":"#fff"},{"offset":0.9,"color":"#fff"},{"offset":0.9,"color":"#000"},{"offset":0.907,"color":"#000"},{"offset":0.907,"color":"#fff"},{"offset":0.92,"color":"#fff"},{"offset":0.92,"color":"#000"},{"offset":0.927,"color":"#000"},{"offset":0.927,"color":"#fff"},{"offset":0.94,"color":"#fff"},{"offset":0.94,"color":"#000"},{"offset":0.947,"color":"#000"},{"offset":0.947,"color":"#fff"},{"offset":0.96,"color":"#fff"},{"offset":0.96,"color":"#000"},{"offset":0.967,"color":"#000"},{"offset":0.967,"color":"#fff"},{"offset":0.98,"color":"#fff"},{"offset":0.98,"color":"#000"},{"offset":0.987,"color":"#000"},{"offset":0.987,"color":"#fff"},{"offset":1,"color":"#fff"}]}},"encoding":{"y":{"datum":15,"type":"quantitative","scale":{"domain":[0,15],"nice":false}}}},
{"mark":{"type":"bar","fill":"white","stroke":"white","strokeWidth":2},"encoding":{"y":{"field":"value","type":"quantitative","scale":{"domain":[0,15],"nice":false}},"y2":{"datum":15}}},
{"mark":{"type":"bar","fillOpacity":0,"stroke":"black","strokeWidth":4.5},"encoding":{"y":{"field":"value","type":"quantitative","scale":{"domain":[0,15],"nice":false}}}},
{"mark":{"type":"rule","color":"black","strokeWidth":4.5},"encoding":{"y":{"field":"value","type":"quantitative","scale":{"domain":[0,15],"nice":false}},"y2":{"field":"hi"}}},
{"mark":{"type":"tick","color":"black","opacity":1,"size":63,"thickness":4.5},"encoding":{"y":{"field":"hi","type":"quantitative","scale":{"domain":[0,15],"nice":false}}}},
{"data":{"name":"notes"},"transform":[{"filter":"datum.panel === 'C' && datum.sym === '*'"}],"mark":{"type":"text","fontSize":34,"baseline":"alphabetic","dy":17,"color":"black"},"encoding":{"y":{"field":"at","type":"quantitative","scale":{"domain":[0,15],"nice":false}},"text":{"field":"sym"}}},
{"data":{"name":"notes"},"transform":[{"filter":"datum.panel === 'C' && datum.sym === '#'"}],"mark":{"type":"text","fontSize":27,"baseline":"alphabetic","dy":9,"color":"black"},"encoding":{"y":{"field":"at","type":"quantitative","scale":{"domain":[0,15],"nice":false}},"text":{"field":"sym"}}}
]
}
],
"config":{
"view":{"stroke":null},
"font":"Liberation Sans",
"text":{"font":"Liberation Sans"},
"axis":{"grid":false,"domainColor":"#000","domainWidth":3,"tickColor":"#000","tickWidth":3,"tickSize":11,"labelColor":"#000","labelFont":"Liberation Sans","labelFontWeight":"bold","labelFontSize":22,"titleColor":"#000","titleFont":"Liberation Sans","titleFontWeight":"bold","titleFontSize":24.5,"tickCount":4},
"axisY":{"labelPadding":1,"titlePadding":10},
"axisX":{"labelFontSize":22,"labelPadding":2},
"title":{"font":"Liberation Serif","fontSize":38,"fontWeight":"bold","color":"#000","anchor":"start","frame":"group","baseline":"alphabetic","offset":8}
}
}
